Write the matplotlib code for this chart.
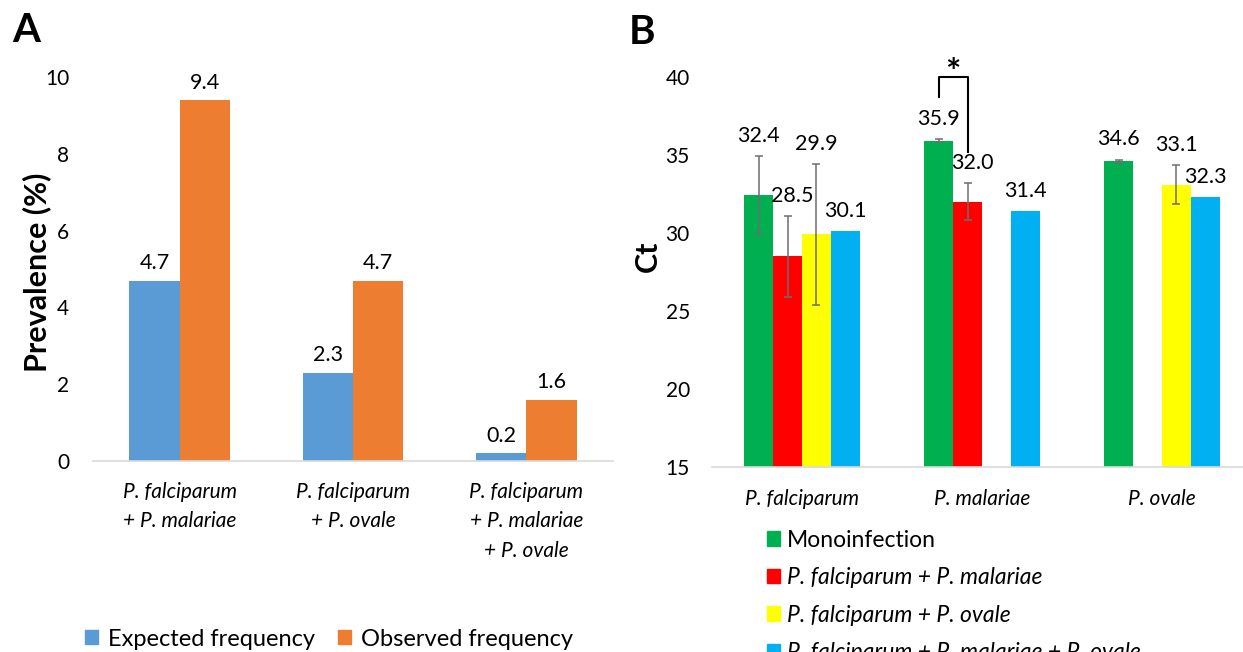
import matplotlib
matplotlib.use('Agg')
import matplotlib.pyplot as plt
from matplotlib.patches import Patch
import numpy as np

plt.rcParams['font.family'] = ['Lato', 'DejaVu Sans']

# ---- Panel A data ----
combos = ['P. falciparum\n+ P. malariae', 'P. falciparum\n+ P. ovale',
          'P. falciparum\n+ P. malariae\n+ P. ovale']
expected = [4.7, 2.3, 0.2]
observed = [9.4, 4.7, 1.6]
freq_names = ['Expected frequency', 'Observed frequency']

# ---- Panel B data ----
species = ['P. falciparum', 'P. malariae', 'P. ovale']
infection_names = ['Monoinfection', 'P. falciparum + P. malariae',
                   'P. falciparum + P. ovale', 'P. falciparum + P. malariae + P. ovale']
ct_mono = [32.4, 35.9, 34.6]
ct_fm = [28.5, 32.0, np.nan]
ct_fo = [29.9, np.nan, 33.1]
ct_fmo = [30.1, 31.4, 32.3]
err_mono = [2.5, 0.1, 0.1]
err_fm = [2.6, 1.2, np.nan]
err_fo = [4.5, np.nan, 1.25]
err_fmo = [np.nan, np.nan, np.nan]

col_a = ['#5B9BD5', '#ED7D31']
col_b = ['#00B050', '#FF0000', '#FFFF00', '#00B0F0']

W, H = 1243, 652
fig = plt.figure(figsize=(W / 100, H / 100), dpi=100)

def fx(px):
    return px / W

def fy(py):
    return 1 - py / H

def style_axis(ax):
    for s in ['left', 'right', 'top']:
        ax.spines[s].set_visible(False)
    ax.spines['bottom'].set_color('#D9D9D9')
    ax.spines['bottom'].set_linewidth(1.2)
    ax.tick_params(length=0, labelsize=15, colors='#000000')

# ---------------- Panel A ----------------
axA = fig.add_axes([fx(93), fy(461), fx(613 - 93), (461 - 77) / H])
xa = np.arange(len(combos))
wa = 0.29
for i, (vals, c) in enumerate(zip([expected, observed], col_a)):
    pos = xa + (i - 0.5) * wa
    axA.bar(pos, vals, wa, color=c)
    for p, v in zip(pos, vals):
        axA.annotate(f'{v:.1f}', (p, v), xytext=(0, 12.5), textcoords='offset points',
                     ha='center', va='center', fontsize=15.5)
axA.set_xlim(-0.5, 2.5)
axA.set_ylim(0, 10)
axA.set_yticks([0, 2, 4, 6, 8, 10])
axA.set_xticks(xa)
axA.set_xticklabels(combos, fontstyle='italic', linespacing=1.6, fontsize=16)
style_axis(axA)
axA.tick_params(axis='y', pad=17)
axA.tick_params(axis='x', pad=15)
fig.text(fx(37), fy(272), 'Prevalence (%)', rotation=90, ha='center', va='center',
         fontsize=22, fontweight='bold')
fig.text(fx(12), fy(31), 'A', ha='left', va='center', fontsize=29, fontweight='bold')

handles_a = [Patch(color=c, label=n) for c, n in zip(col_a, freq_names)]
fig.legend(handles=handles_a, loc='center', bbox_to_anchor=(fx(329), fy(639)), ncol=2,
           frameon=False, fontsize=17, handlelength=0.55, handleheight=0.55,
           handletextpad=0.42, columnspacing=1.0)

# ---------------- Panel B ----------------
axB = fig.add_axes([fx(712), fy(466.7), fx(1252 - 712), (466.7 - 77) / H])
xb = np.arange(len(species))
wb = 0.16
series = [ct_mono, ct_fm, ct_fo, ct_fmo]
errs = [err_mono, err_fm, err_fo, err_fmo]
for i, (vals, ev, c) in enumerate(zip(series, errs, col_b)):
    pos = xb + (i - 1.5) * wb
    vals = np.array(vals, dtype=float)
    ev = np.array(ev, dtype=float)
    axB.bar(pos, vals - 15, wb, bottom=15, color=c)
    ok = np.isfinite(vals) & np.isfinite(ev)
    if ok.any():
        axB.errorbar(pos[ok], vals[ok], yerr=ev[ok], fmt='none', ecolor='#6E6E6E',
                     elinewidth=1.1, capsize=3, capthick=1.1)
    for p, v, e in zip(pos, vals, ev):
        if not np.isfinite(v):
            continue
        top = v + (e if np.isfinite(e) else 0)
        dx = 3.5 if i == 1 else 0
        axB.annotate(f'{v:.1f}', (p, top), xytext=(dx, 14.5), textcoords='offset points',
                     ha='center', va='center', fontsize=15.5)
axB.set_xlim(-0.5, 2.5)
axB.set_ylim(15, 40)
axB.set_yticks([15, 20, 25, 30, 35, 40])
axB.set_xticks(xb)
axB.set_xticklabels(species, fontstyle='italic', fontsize=16)
style_axis(axB)
axB.tick_params(axis='y', pad=16)
axB.tick_params(axis='x', pad=16)

# significance bracket between mono and Pf+Pm for P. malariae
xl = xb[1] - 1.5 * wb
xr = xb[1] - 0.5 * wb
axB.plot([xl, xl, xr, xr], [38.7, 40.0, 40.0, 35.2], color='black', lw=1.5,
         clip_on=False)
axB.text((xl + xr) / 2, 40.2, '*', ha='center', va='center', fontsize=26,
         fontweight='bold', clip_on=False)

fig.text(fx(648), fy(256), 'Ct', rotation=90, ha='center', va='center',
         fontsize=22, fontweight='bold')
fig.text(fx(629), fy(32), 'B', ha='left', va='center', fontsize=29, fontweight='bold')

handles_b = [Patch(color=c, label=n) for c, n in zip(col_b, infection_names)]
leg = fig.legend(handles=handles_b, loc='upper left', bbox_to_anchor=(fx(746), fy(509)),
                 frameon=False, fontsize=16.5, handlelength=0.6, handleheight=0.6,
                 handletextpad=0.3, labelspacing=0.72)
for t in leg.get_texts()[1:]:
    t.set_fontstyle('italic')

fig.savefig('out.png', dpi=100)
